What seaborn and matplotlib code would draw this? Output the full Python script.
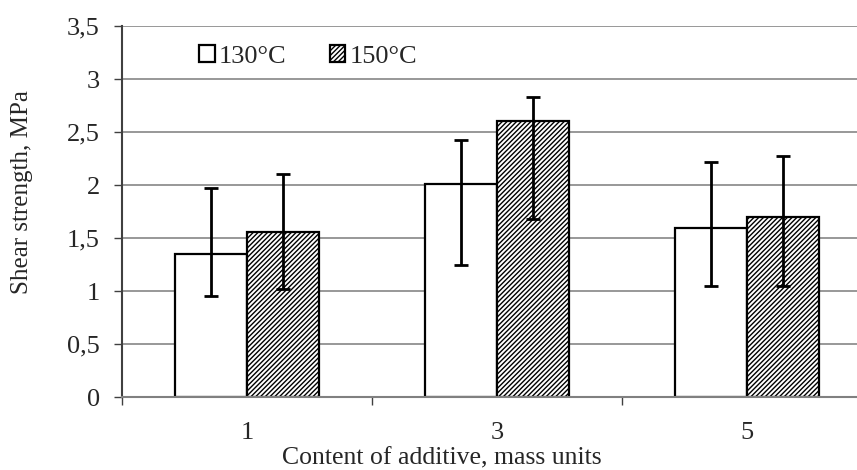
import numpy as np
import pandas as pd
import seaborn as sns
import matplotlib.pyplot as plt
from matplotlib.ticker import FixedLocator, FuncFormatter

# datos
contenido = ["1", "3", "5"]
temperaturas = ["130°C", "150°C"]
media_130 = [1.35, 2.01, 1.59]
media_150 = [1.56, 2.60, 1.70]
sup_130 = [1.97, 2.42, 2.22]
inf_130 = [0.95, 1.25, 1.05]
sup_150 = [2.10, 2.83, 2.27]
inf_150 = [1.02, 1.68, 1.05]

df = pd.DataFrame({
    "contenido": contenido * 2,
    "temp": [temperaturas[0]] * 3 + [temperaturas[1]] * 3,
    "valor": media_130 + media_150,
})

sns.set_style("white")
plt.rcParams["font.family"] = ["Liberation Serif", "DejaVu Serif"]
plt.rcParams["hatch.linewidth"] = 1.0

fig = plt.figure(figsize=(8.57, 4.70), dpi=100)
ax = fig.add_axes([122 / 857, 1 - 397 / 470, (857 - 122) / 857, 371 / 470])

sns.barplot(data=df, x="contenido", y="valor", hue="temp", order=contenido,
            hue_order=temperaturas, width=0.575, palette=["white", "white"],
            edgecolor="black", linewidth=1.6, errorbar=None, ax=ax, zorder=2)

# hatch para 150 y barras de error
n = len(contenido)
for i, p in enumerate(ax.patches[:2 * n]):
    if i >= n:
        p.set_hatch("///////")
    serie = i // n
    j = i % n
    x = p.get_x() + p.get_width() / 2
    med = [media_130, media_150][serie][j]
    sup = [sup_130, sup_150][serie][j]
    inf = [inf_130, inf_150][serie][j]
    ax.errorbar(x, med, yerr=[[med - inf], [sup - med]], fmt="none",
                ecolor="black", elinewidth=2, capsize=5, capthick=2, zorder=3)

ax.set_ylim(0, 3.5)
ax.set_xlim(-0.5, 2.44)
ax.yaxis.set_major_locator(FixedLocator(np.arange(0, 3.51, 0.5)))
ax.yaxis.set_major_formatter(FuncFormatter(lambda v, pos: f"{v:g}".replace(".", ",")))
ax.grid(axis="y", color="#868686", linewidth=1.2, zorder=0)
ax.set_axisbelow(True)

ax.xaxis.set_minor_locator(FixedLocator([-0.5, 0.5, 1.5, 2.5]))
ax.tick_params(axis="x", which="major", length=0, labelsize=19, pad=18)
ax.tick_params(axis="x", which="minor", length=6, width=1, color="#404040", direction="out", bottom=True)
ax.tick_params(axis="y", length=6, width=1, color="#404040", direction="out", labelsize=19, left=True, pad=10)

for s in ["top", "right"]:
    ax.spines[s].set_visible(False)
ax.spines["left"].set_color("#404040")
ax.spines["left"].set_linewidth(1.5)
ax.spines["bottom"].set_color("#808080")
ax.spines["bottom"].set_linewidth(1.5)

ax.set_xlabel("Content of additive, mass units", fontsize=18.5)
ax.set_ylabel("Shear strength, MPa", fontsize=18)
ax.xaxis.set_label_coords(0.435, -0.136)
ax.yaxis.set_label_coords(-0.121, 0.553)

leg = ax.legend(loc="upper left", bbox_to_anchor=(0.072, 1.012), ncol=2, frameon=False,
                fontsize=19, handlelength=0.6, handleheight=0.6, handletextpad=0.15,
                columnspacing=1.65)
for k, h in enumerate(leg.legend_handles):
    h.set_linewidth(1.6)
    if k == 1:
        h.set_hatch("///////")

fig.savefig("out.png", dpi=100)
